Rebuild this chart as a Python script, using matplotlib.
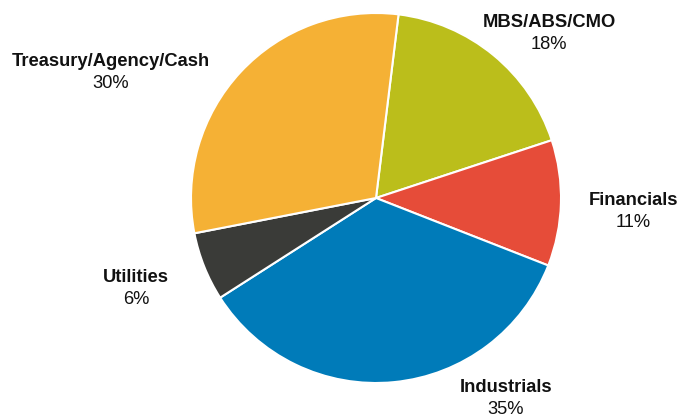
import matplotlib.pyplot as plt

sectors = ['MBS/ABS/CMO', 'Financials', 'Industrials', 'Utilities', 'Treasury/Agency/Cash']
shares = [18, 11, 35, 6, 30]
colors = ['#bbbe1b', '#e64c39', '#007bb9', '#3a3b38', '#f5b135']

# label anchors in pixel coordinates (x, y from top)
label_pos = [(549, 22), (633, 200), (506, 387), (136, 277), (111, 61)]

W, H = 679, 417
fig = plt.figure(figsize=(W / 100, H / 100), dpi=100)
ax = fig.add_axes([0, 0, 1, 1])

ax.pie(shares, colors=colors, startangle=83, counterclock=False,
       center=(376, H - 198), radius=185,
       wedgeprops=dict(edgecolor='white', linewidth=1.5))

# pie() resets the limits, so set them afterwards
ax.set_xlim(0, W)
ax.set_ylim(0, H)
ax.set_aspect('equal')
ax.axis('off')

fam = ['Liberation Sans', 'DejaVu Sans']
for name, val, (x, y) in zip(sectors, shares, label_pos):
    ax.text(x, H - y, name, ha='center', va='center', fontsize=13.2,
            fontweight='bold', family=fam, color='#111111')
    ax.text(x, H - y - 22, f'{val}%', ha='center', va='center', fontsize=13.2,
            family=fam, color='#111111')

fig.savefig('out.png', dpi=100)
